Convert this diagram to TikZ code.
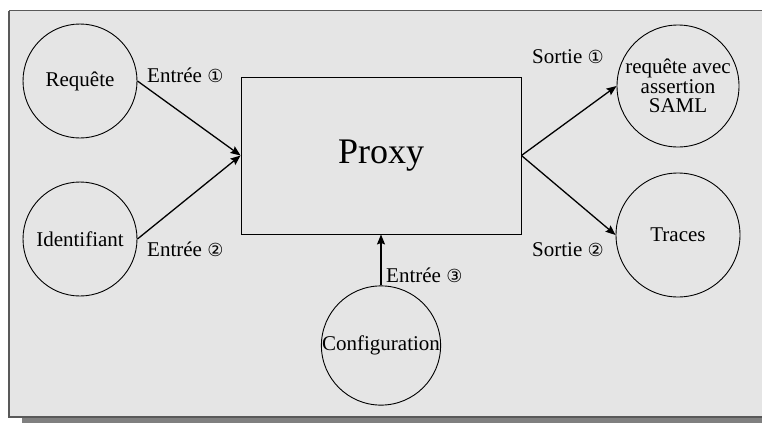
\documentclass[tikz,border=0pt]{standalone}
\usepackage{fontspec}
\setmainfont{Liberation Serif}
\newfontfamily\circnum{DejaVu Sans}
\usetikzlibrary{arrows.meta}
\newcommand{\cnum}[1]{{\circnum\fontsize{18}{18}\selectfont #1}}
\begin{document}
\begin{tikzpicture}[x=1pt,y=-1pt,
  bubble/.style={circle,draw=black,line width=0.9pt,inner sep=0pt,align=center,
    font=\fontsize{21}{19.5}\selectfont},
  flow/.style={line width=1.3pt,-{Stealth[length=10pt,width=8pt,inset=1.5pt]}},
  tag/.style={anchor=base west,inner sep=0pt,font=\fontsize{21}{21}\selectfont}]
  % canvas, drop shadow and frame
  \useasboundingbox (0,0) rectangle (762,423);
  \fill[white] (0,0) rectangle (762,423);
  \fill[black!50] (22,418) rectangle (762,423);
  \fill[black!10] (9,10.5) rectangle (765,417);
  \draw[black!65,line width=1.5pt] (9,10.5) -- (765,10.5) (9,10.5) -- (9,417) -- (765,417);

  % central box
  \node[draw=black,line width=0.9pt,minimum width=280pt,minimum height=157pt,
        font=\fontsize{36}{36}\selectfont] (proxy) at (381,155.5) {Proxy};

  % inputs and outputs
  \node[bubble,minimum size=114pt] (req) at (80,81) {Requête};
  \node[bubble,minimum size=114pt] (ident) at (80,239) {Identifiant};
  \node[bubble,minimum size=122pt] (saml) at (678,86) {requête avec\\assertion\\SAML};
  \node[bubble,minimum size=124pt] (traces) at (678,235) {Traces};
  \node[bubble,minimum size=119pt] (config) at (381,345.5) {Configuration};

  % connectors
  \draw[flow] (req.east) -- (proxy.west);
  \draw[flow] (ident.east) -- (proxy.west);
  \draw[flow] (proxy.east) -- (saml.west);
  \draw[flow] (proxy.east) -- (traces.west);
  \draw[flow] (config.north) -- (proxy.south);

  % connector labels
  \node[tag] (l1) at (147,82) {Entrée \cnum{①}};
  \node[tag] (l2) at (147,256) {Entrée \cnum{②}};
  \node[tag] (l3) at (532,63) {Sortie \cnum{①}};
  \node[tag] (l4) at (532,256) {Sortie \cnum{②}};
  \node[tag] (l5) at (386,282) {Entrée \cnum{③}};
\end{tikzpicture}
\end{document}
